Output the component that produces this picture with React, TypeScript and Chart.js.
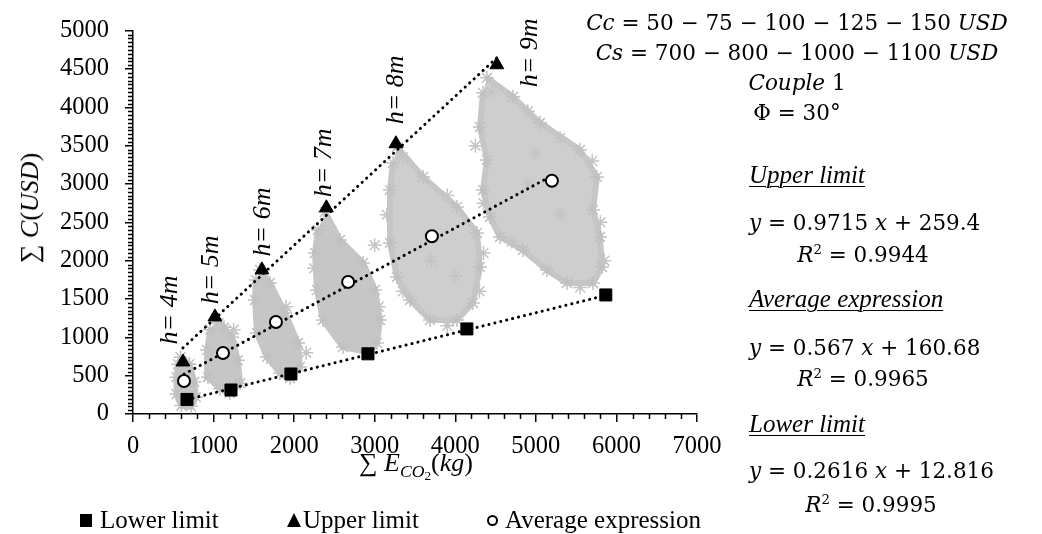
import React, { useEffect, useRef } from 'react';
import { Chart, registerables } from 'chart.js';

Chart.register(...registerables);

// ---- data ----
const lowerLimit: number[][] = [[670, 190], [1216, 313], [1960, 522], [2916, 785], [4144, 1110], [5868, 1553]];
const upperLimit: number[][] = [[620, 679], [1017, 1266], [1600, 1880], [2400, 2690], [3263, 3525], [4516, 4556]];
const averageExpr: number[][] = [[633, 431], [1117, 796], [1774, 1201], [2670, 1723], [3710, 2318], [5199, 3042]];

// trendline coefficients [slope, intercept] (as printed on the chart)
const upperFit = [0.9715, 259.4];
const averageFit = [0.567, 160.68];
const lowerFit = [0.2616, 12.816];
const r2Values = ['0.9944', '0.9965', '0.9995'];

// simulated clouds (outline) for h = 4..9 m
const cloud1: number[][] = [[590, 740], [700, 650], [760, 420], [780, 220], [720, 100], [600, 110], [540, 260], [540, 480], [560, 650]];
const cloud2: number[][] = [[1040, 1240], [1130, 1130], [1230, 1000], [1300, 700], [1330, 400], [1200, 275], [1080, 330], [930, 480], [920, 835], [960, 1100]];
const cloud3: number[][] = [[1576, 1880], [1700, 1710], [1886, 1318], [2048, 927], [2072, 613], [1948, 470], [1824, 535], [1663, 744], [1539, 1057], [1514, 1488], [1526, 1749]];
const cloud4: number[][] = [[2383, 2636], [2569, 2271], [2855, 1970], [3003, 1618], [3065, 1227], [3028, 927], [2904, 809], [2606, 874], [2358, 1227], [2283, 1618], [2259, 2101], [2296, 2401]];
const cloud5: number[][] = [[3276, 3484], [3600, 3093], [4021, 2701], [4269, 2362], [4306, 1918], [4219, 1449], [4021, 1227], [3686, 1227], [3438, 1488], [3276, 1788], [3190, 2232], [3190, 2923], [3227, 3275]];
const cloud6: number[][] = [[4393, 4385], [4716, 4137], [5051, 3798], [5547, 3445], [5758, 3093], [5709, 2662], [5796, 2310], [5820, 1918], [5709, 1710], [5386, 1710], [5138, 1879], [4840, 2140], [4555, 2310], [4430, 2571], [4344, 2923], [4393, 3314], [4306, 3745], [4344, 4189]];
const cloudStars: number[][] = [[3150, 2600], [3350, 3350], [3900, 2850], [4350, 2100], [4300, 1600], [3900, 1150], [3350, 1600], [4450, 4200], [4900, 3950], [5300, 3600], [5700, 3300], [5800, 2500], [5850, 2000], [5550, 1650], [4700, 2250], [4350, 2750], [4250, 3500], [3050, 1400], [2250, 1900], [2950, 850], [3700, 2000], [4000, 1800], [4900, 3000], [5300, 2600], [5000, 3400], [1900, 1400], [1250, 1100], [700, 600], [2150, 800], [3000, 2200]];

// h labels and their anchor (data coordinates)
const hLabels = ['h= 4m', 'h= 5m', 'h= 6m', 'h= 7m', 'h= 8m', 'h= 9m'];
const hLabelPos: number[][] = [[460, 1357], [968, 1879], [1613, 2505], [2370, 3276], [3264, 4228], [4927, 4711]];

// axes
const xRange = [0, 7000];
const yRange = [0, 5000];
const xSteps = [1000, 200]; // major, minor
const ySteps = [500, 50];

const SERIF = '"Liberation Serif", "Times New Roman", serif';
const MATH = '"DejaVu Serif", serif';
const GREY = '#c6c6c6';

const toPts = (arr: number[][]) => arr.map(([x, y]) => ({ x, y }));
const fitLine = (arr: number[][], fit: number[]) => {
  const xs = arr.map((p) => p[0]);
  const a = Math.min(...xs);
  const b = Math.max(...xs);
  return [{ x: a, y: fit[0] * a + fit[1] }, { x: b, y: fit[0] * b + fit[1] }];
};

const minorTicks = {
  id: 'minorTicks',
  afterDraw(chart: any) {
    const { ctx, chartArea } = chart;
    const x = chart.scales.x;
    const y = chart.scales.y;
    ctx.save();
    ctx.strokeStyle = '#000';
    ctx.lineWidth = 1.5;
    ctx.beginPath();
    for (let v = xRange[0]; v <= xRange[1]; v += xSteps[1]) {
      if (v % xSteps[0] === 0) continue;
      const px = Math.round(x.getPixelForValue(v)) + 0.5;
      ctx.moveTo(px, chartArea.bottom);
      ctx.lineTo(px, chartArea.bottom + 5);
    }
    for (let v = yRange[0]; v <= yRange[1]; v += ySteps[1]) {
      if (v % ySteps[0] === 0) continue;
      const py = Math.round(y.getPixelForValue(v)) + 0.5;
      ctx.moveTo(chartArea.left, py);
      ctx.lineTo(chartArea.left - 5, py);
    }
    ctx.stroke();
    ctx.restore();
  },
};

const hLabelPlugin = {
  id: 'hLabels',
  afterDatasetsDraw(chart: any) {
    const { ctx } = chart;
    const x = chart.scales.x;
    const y = chart.scales.y;
    ctx.save();
    ctx.font = `italic 26px ${SERIF}`;
    ctx.fillStyle = '#000';
    ctx.textAlign = 'center';
    ctx.textBaseline = 'middle';
    hLabelPos.forEach(([vx, vy], i) => {
      ctx.save();
      ctx.translate(x.getPixelForValue(vx), y.getPixelForValue(vy));
      ctx.rotate(-Math.PI / 2);
      ctx.fillText(hLabels[i], 0, 0);
      ctx.restore();
    });
    ctx.restore();
  },
};

const cloudDataset = (arr: number[][], fill: string) => ({
  type: 'scatter' as const,
  data: toPts(arr),
  showLine: true,
  fill: 'shape',
  backgroundColor: fill,
  borderColor: GREY,
  borderWidth: 6,
  pointStyle: 'star',
  pointRadius: 7,
  pointBorderColor: '#c0c0c0',
  pointBackgroundColor: '#c0c0c0',
  pointBorderWidth: 1.5,
  order: 3,
});

const trendDataset = (pts: any[]) => ({
  type: 'scatter' as const,
  data: pts,
  showLine: true,
  borderColor: '#000',
  borderWidth: 3,
  borderDash: [0.1, 6],
  borderCapStyle: 'round',
  pointRadius: 0,
  fill: false,
  order: 2,
});

const FS = 25;
const T = ({ x, base, center, size = FS, family = SERIF, k = 0.8375, style, children }: any) => (
  <div
    style={{
      position: 'absolute',
      left: x,
      top: base - k * size,
      fontSize: size,
      lineHeight: `${size}px`,
      fontFamily: family,
      whiteSpace: 'nowrap',
      color: '#000',
      transform: center ? 'translateX(-50%)' : undefined,
      ...style,
    }}
  >
    {children}
  </div>
);

const M = (props: any) => <T family={MATH} size={21.5} k={0.846} {...props} />;

const Sup = ({ children }: any) => (
  <span style={{ fontSize: '0.62em', verticalAlign: '0.6em', lineHeight: 0 }}>{children}</span>
);

const fmtEq = (fit: number[]) => (
  <>
    <i>y</i> = {String(fit[0])} <i>x</i> + {String(fit[1])}
  </>
);

export default function App() {
  const ref = useRef<HTMLCanvasElement | null>(null);

  useEffect(() => {
    document.body.style.margin = '0';
    const canvas = ref.current;
    if (!canvas) return;
    const tickFont = { family: SERIF, size: 24.5 };
    const chart = new Chart(canvas, {
      type: 'scatter',
      data: {
        datasets: [
          { label: 'Lower limit', data: toPts(lowerLimit), pointStyle: 'rect', pointRadius: 8.5, backgroundColor: '#000', borderColor: '#000', borderWidth: 1, order: 0 },
          { label: 'Upper limit', data: toPts(upperLimit), pointStyle: 'triangle', pointRadius: 8, backgroundColor: '#000', borderColor: '#000', borderWidth: 1, order: 0 },
          { label: 'Average expression', data: toPts(averageExpr), pointStyle: 'circle', pointRadius: 6, backgroundColor: '#fff', borderColor: '#000', borderWidth: 2, order: 0 },
          trendDataset(fitLine(lowerLimit, lowerFit)),
          trendDataset(fitLine(upperLimit, upperFit)),
          trendDataset(fitLine(averageExpr, averageFit)),
          { type: 'scatter', data: toPts(cloudStars), pointStyle: 'star', pointRadius: 7, borderColor: '#c4c4c4', borderWidth: 1.5, order: 3 },
          cloudDataset(cloud1, GREY),
          cloudDataset(cloud2, GREY),
          cloudDataset(cloud3, GREY),
          cloudDataset(cloud4, GREY),
          cloudDataset(cloud5, '#cecece'),
          cloudDataset(cloud6, '#cecece'),
        ] as any,
      },
      options: {
        responsive: false,
        animation: false,
        layout: { padding: { left: 0, right: 345, top: 29, bottom: 0 } },
        plugins: { legend: { display: false }, tooltip: { enabled: false } },
        scales: {
          x: {
            type: 'linear',
            min: xRange[0],
            max: xRange[1],
            ticks: { stepSize: xSteps[0], font: tickFont, color: '#000', padding: 10, maxRotation: 0, autoSkip: false, callback: (v: any) => String(v) },
            grid: { display: true, drawOnChartArea: false, drawTicks: true, tickLength: 8, color: '#000', lineWidth: 1.5 },
            border: { display: true, color: '#000', width: 1.5 },
            afterFit: (s: any) => { s.height = 120; },
          },
          y: {
            type: 'linear',
            min: yRange[0],
            max: yRange[1],
            ticks: { stepSize: ySteps[0], font: tickFont, color: '#000', padding: 16, autoSkip: false, callback: (v: any) => String(v) },
            grid: { display: true, drawOnChartArea: false, drawTicks: true, tickLength: 8, color: '#000', lineWidth: 1.5 },
            border: { display: true, color: '#000', width: 1.5 },
            afterFit: (s: any) => { s.width = 133; },
          },
        },
      } as any,
      plugins: [minorTicks, hLabelPlugin],
    });
    return () => chart.destroy();
  }, []);

  const underline = { fontStyle: 'italic', textDecoration: 'underline', textUnderlineOffset: '3px', textDecorationThickness: '1px' };

  return (
    <div style={{ position: 'relative', width: 1042, height: 534, overflow: 'hidden', background: '#fff' }}>
      <canvas ref={ref} width={1042} height={534} style={{ position: 'absolute', left: 0, top: 0, display: 'block' }} />

      {/* y axis title */}
      <div
        style={{
          position: 'absolute', left: 30, top: 208, fontSize: 26, fontFamily: SERIF, whiteSpace: 'nowrap',
          transform: 'translate(-50%, -50%) rotate(-90deg)', lineHeight: '30px',
        }}
      >
        ∑ <i>C</i>(<i>USD</i>)
      </div>

      {/* x axis title */}
      <T x={416} base={472} center size={26}>
        ∑ <i>E</i>
        <span style={{ fontSize: '0.68em', verticalAlign: '-0.35em', lineHeight: 0 }}>
          <i>CO</i><span style={{ fontSize: '0.75em', verticalAlign: '-0.2em' }}>2</span>
        </span>
        (<i>kg</i>)
      </T>

      {/* legend */}
      <div style={{ position: 'absolute', left: 80, top: 514, width: 12, height: 13, background: '#000' }} />
      <T x={100} base={528}>Lower limit</T>
      <div style={{ position: 'absolute', left: 287, top: 513, width: 0, height: 0, borderLeft: '7.5px solid transparent', borderRight: '7.5px solid transparent', borderBottom: '14px solid #000' }} />
      <T x={303} base={528}>Upper limit</T>
      <div style={{ position: 'absolute', left: 487, top: 515, width: 11, height: 11, boxSizing: 'border-box', border: '2px solid #000', borderRadius: '50%' }} />
      <T x={505} base={528}>Average expression</T>

      {/* top-right parameters */}
      <M x={797} base={30} center><i>Cc</i> = 50 − 75 − 100 − 125 − 150 <i>USD</i></M>
      <M x={797} base={60} center><i>Cs</i> = 700 − 800 − 1000 − 1100 <i>USD</i></M>
      <M x={797} base={90} center><i>Couple</i> 1</M>
      <M x={797} base={120} center>Φ = 30°</M>

      {/* regression equations */}
      <T x={749} base={183} style={underline}>Upper limit</T>
      <M x={749} base={230}>{fmtEq(upperFit)}</M>
      <M x={863} base={262} center><i>R</i><Sup>2</Sup> = {r2Values[0]}</M>

      <T x={749} base={307} style={underline}>Average expression</T>
      <M x={749} base={355}>{fmtEq(averageFit)}</M>
      <M x={863} base={386} center><i>R</i><Sup>2</Sup> = {r2Values[1]}</M>

      <T x={749} base={432} style={underline}>Lower limit</T>
      <M x={749} base={478}>{fmtEq(lowerFit)}</M>
      <M x={871} base={512} center><i>R</i><Sup>2</Sup> = {r2Values[2]}</M>
    </div>
  );
}
